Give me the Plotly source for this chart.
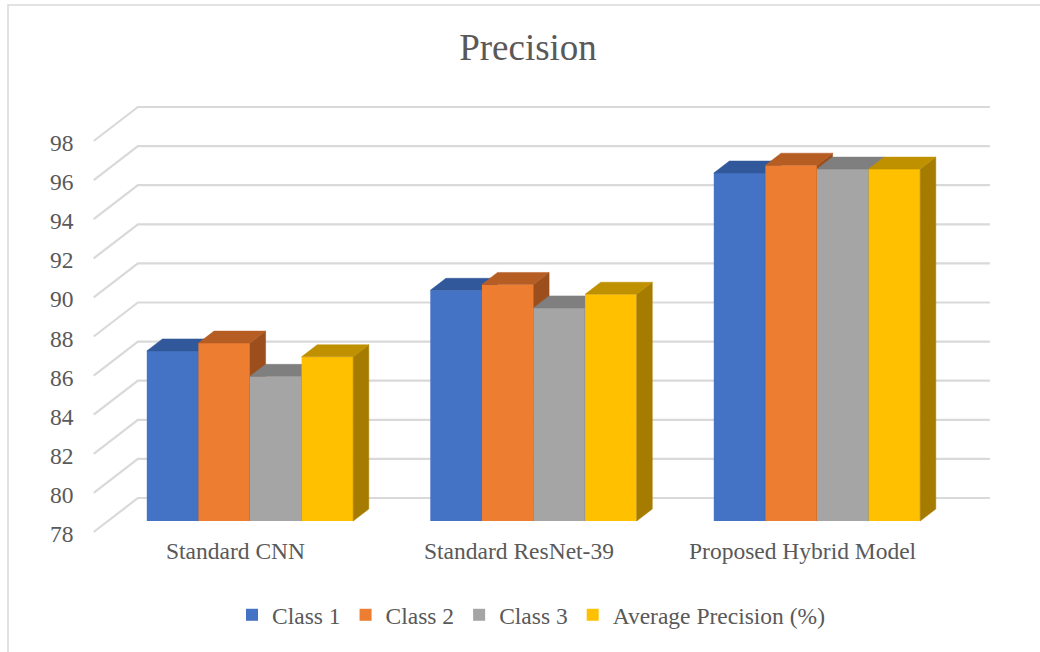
import plotly.graph_objects as go

# ---- data -------------------------------------------------------------
categories = ["Standard CNN", "Standard ResNet-39", "Proposed Hybrid Model"]
series_names = ["Class 1", "Class 2", "Class 3", "Average Precision (%)"]
class_1 = [86.7, 89.8, 95.8]
class_2 = [87.1, 90.1, 96.2]
class_3 = [85.4, 88.9, 96.0]
average_precision = [86.4, 89.6, 96.0]
y_tick_values = [78, 80, 82, 84, 86, 88, 90, 92, 94, 96, 98]

series_values = [class_1, class_2, class_3, average_precision]

# ---- styling ------------------------------------------------------------
FRONT = ["#4472C4", "#ED7D31", "#A5A5A5", "#FFC000"]
TOP = ["#30589A", "#B65D24", "#7F7F7F", "#BF9000"]
SIDE = ["#284B85", "#9C4F1C", "#6B6B6B", "#A67C00"]
TEXT = "#595959"
GRID = "#D9D9D9"
FONT = "Liberation Serif"

W, H = 1040, 652
PX_PER_CAT = 283.5      # pixels between category centres
PX_PER_UNIT = 19.55     # pixels per value unit
CAT0_PX = 250           # pixel x of the first category centre
BASE = 78               # value at the floor of the chart
BASE_PX = 521           # pixel y of the floor in the bar plane

SLANT = 1.3             # horizontal shift per pixel of depth (oblique projection)
BAR_DEPTH = 12          # depth of each bar, px
WALL_DEPTH = 23         # back wall behind the bar plane, px
FRONT_DEPTH = -11       # front edge of the floor, px
BAR_W = 0.182           # width of a single bar, in category units
WALL_LEFT_PX = 108      # left end of the back wall, in bar-plane pixels
WALL_RIGHT_PX = 960     # right end of the back wall, in bar-plane pixels

x_range = [-CAT0_PX / PX_PER_CAT, (W - CAT0_PX) / PX_PER_CAT]
y_range = [BASE - (H - BASE_PX) / PX_PER_UNIT, BASE + BASE_PX / PX_PER_UNIT]


def depth(d):
    """Offset (dx, dy) in data units for a depth of d pixels."""
    return d * SLANT / PX_PER_CAT, d / PX_PER_UNIT


def px_to_x(px):
    return (px - CAT0_PX) / PX_PER_CAT


fig = go.Figure()

# ---- back wall gridlines and left-wall diagonals ------------------------
wl, wr = px_to_x(WALL_LEFT_PX), px_to_x(WALL_RIGHT_PX)
fdx, fdy = depth(FRONT_DEPTH)
bdx, bdy = depth(WALL_DEPTH)
gx, gy = [], []
for v in y_tick_values:
    gx += [wl + fdx, wl + bdx, wr + bdx, None]
    gy += [v + fdy, v + bdy, v + bdy, None]
fig.add_trace(go.Scatter(x=gx, y=gy, mode="lines",
                         line=dict(color=GRID, width=2.2),
                         hoverinfo="skip", showlegend=False))

# ---- 3D bars: one overlaid subplot per series so later bars sit in front --
ddx, ddy = depth(BAR_DEPTH)
for k, (name, vals) in enumerate(zip(series_names, series_values)):
    xa, ya = f"x{k + 2}", f"y{k + 2}"
    offset = -2 * BAR_W + k * BAR_W
    fig.add_trace(go.Bar(
        x=list(range(len(categories))),
        y=[v - BASE for v in vals],
        base=BASE,
        width=BAR_W,
        offset=offset,
        name=name,
        marker=dict(color=FRONT[k], line=dict(width=0)),
        customdata=[[c, v] for c, v in zip(categories, vals)],
        hovertemplate="%{customdata[0]}<br>" + name + ": %{customdata[1]}<extra></extra>",
        xaxis=xa, yaxis=ya,
    ))
    tx, ty, sx, sy = [], [], [], []
    for i, v in enumerate(vals):
        xl = i + offset
        xr = xl + BAR_W
        tx += [xl, xr, xr + ddx, xl + ddx, xl, None]
        ty += [v, v, v + ddy, v + ddy, v, None]
        sx += [xr, xr, xr + ddx, xr + ddx, xr, None]
        sy += [BASE, v, v + ddy, BASE + ddy, BASE, None]
    fig.add_trace(go.Scatter(x=sx, y=sy, mode="lines", fill="toself",
                             fillcolor=SIDE[k], line=dict(color=SIDE[k], width=0.5),
                             hoverinfo="skip", showlegend=False,
                             xaxis=xa, yaxis=ya))
    fig.add_trace(go.Scatter(x=tx, y=ty, mode="lines", fill="toself",
                             fillcolor=TOP[k], line=dict(color=TOP[k], width=0.5),
                             hoverinfo="skip", showlegend=False,
                             xaxis=xa, yaxis=ya))

# ---- axis labels drawn on the front plane --------------------------------
annotations = []
for v in y_tick_values:
    annotations.append(dict(x=px_to_x(76), y=v - 13 / PX_PER_UNIT, xref="x", yref="y",
                            text=str(v), showarrow=False, xanchor="right", yanchor="middle",
                            font=dict(family=FONT, size=23.5, color=TEXT)))
for i, c in enumerate(categories):
    annotations.append(dict(x=i + fdx, y=BASE - 30 / PX_PER_UNIT, xref="x", yref="y",
                            text=c, showarrow=False, xanchor="center", yanchor="middle",
                            font=dict(family=FONT, size=23.5, color=TEXT)))

axis_common = dict(visible=False, fixedrange=True, showgrid=False, zeroline=False)
layout = dict(
    width=W, height=H,
    margin=dict(l=0, r=0, t=0, b=0),
    paper_bgcolor="white", plot_bgcolor="white",
    font=dict(family=FONT, color=TEXT),
    title=dict(text="Precision", x=528 / W, y=1 - 47 / H, xanchor="center", yanchor="middle",
               font=dict(family=FONT, size=37, color=TEXT)),
    xaxis=dict(range=x_range, domain=[0, 1], **axis_common),
    yaxis=dict(range=y_range, domain=[0, 1], **axis_common),
    showlegend=True,
    legend=dict(orientation="h", x=531 / W, xanchor="center", y=1 - 615 / H, yanchor="middle",
                font=dict(family=FONT, size=23.5, color=TEXT),
                bgcolor="rgba(0,0,0,0)", itemclick=False, itemdoubleclick=False),
    annotations=annotations,
    shapes=[dict(type="rect", xref="paper", yref="paper",
                 x0=8 / W, x1=1.02, y0=-0.02, y1=1 - 5 / H,
                 line=dict(color=GRID, width=1.5), fillcolor="rgba(0,0,0,0)", layer="below")],
)
for k in range(len(series_names)):
    layout[f"xaxis{k + 2}"] = dict(range=x_range, overlaying="x", **axis_common)
    layout[f"yaxis{k + 2}"] = dict(range=y_range, overlaying="y", **axis_common)
fig.update_layout(**layout)

fig.write_html("out.html")
